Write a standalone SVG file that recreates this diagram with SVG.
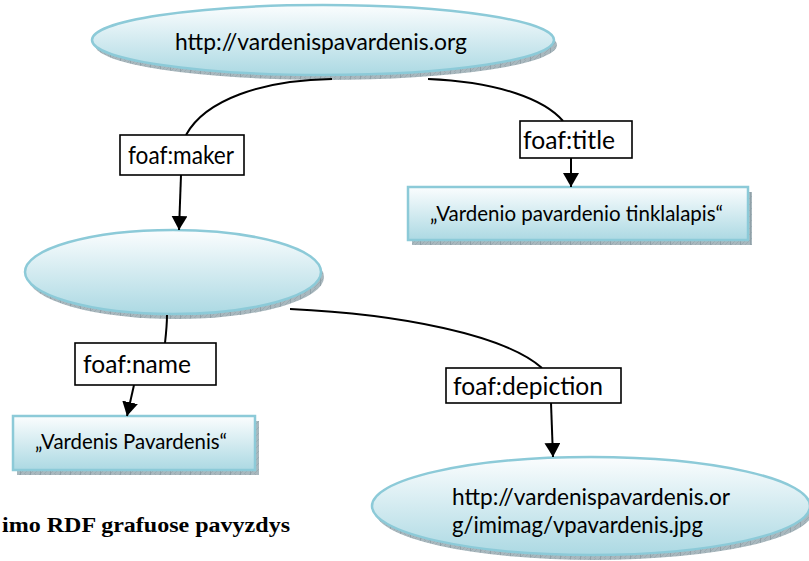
<svg xmlns="http://www.w3.org/2000/svg" width="809" height="561" viewBox="0 0 809 561">
  <defs>
    <linearGradient id="nodeFill" x1="0" y1="0" x2="0" y2="1">
      <stop offset="0" stop-color="#fbfdfe"/>
      <stop offset="1" stop-color="#acd9e3"/>
    </linearGradient>
    <pattern id="hatch" width="10" height="6" patternUnits="userSpaceOnUse">
      <rect width="10" height="6" fill="#a9b8be"/>
      <path d="M0,0 L0,6" stroke="#6d7f88" stroke-width="0.8"/>
      <path d="M0,6 L6,0 M4,6 L10,0" stroke="#8d9ea6" stroke-width="0.5"/>
    </pattern>
    <marker id="arrow" viewBox="0 0 14 16" refX="14" refY="8" markerWidth="14" markerHeight="16" markerUnits="userSpaceOnUse" orient="auto">
      <path d="M0,0 L14,8 L0,16 Z" fill="#000"/>
    </marker>
  </defs>
  <style>
    .ell { fill: url(#nodeFill); stroke: #8ccad8; stroke-width: 2.5; }
    .box { fill: url(#nodeFill); stroke: #8ccad8; stroke-width: 2.5; }
    .shadow { fill: url(#hatch); }
    .lbl { fill: #fff; stroke: #000; stroke-width: 1.6; }
    .txt { font-family: Lato, "Open Sans", sans-serif; fill: #000; }
    .edge { fill: none; stroke: #000; stroke-width: 2; }
    .cap { font-family: "Liberation Serif", serif; font-weight: bold; font-size: 22px; fill: #000; }
  </style>

  <!-- resource: site -->
  <g id="site">
    <ellipse class="shadow" cx="326" cy="45" rx="231" ry="35"/>
    <ellipse class="ell" cx="323" cy="40" rx="231" ry="35"/>
    <text class="txt" x="175" y="50" font-size="24" textLength="292" lengthAdjust="spacingAndGlyphs">http://vardenispavardenis.org</text>
  </g>

  <!-- blank node: person -->
  <g id="person">
    <ellipse class="shadow" cx="176" cy="277" rx="148" ry="42"/>
    <ellipse class="ell" cx="173" cy="272" rx="148" ry="42"/>
  </g>

  <!-- literal: title -->
  <g id="title">
    <rect class="shadow" x="412" y="192" width="340" height="53"/>
    <rect class="box" x="408" y="187" width="340" height="53"/>
    <text class="txt" x="430" y="221" font-size="21" textLength="293" lengthAdjust="spacingAndGlyphs">„Vardenio pavardenio tinklalapis“</text>
  </g>

  <!-- literal: name -->
  <g id="name">
    <rect class="shadow" x="17" y="421" width="242" height="54"/>
    <rect class="box" x="13" y="416" width="242" height="54"/>
    <text class="txt" x="35" y="449" font-size="21" textLength="192" lengthAdjust="spacingAndGlyphs">„Vardenis Pavardenis“</text>
  </g>

  <!-- resource: image -->
  <g id="image">
    <ellipse class="shadow" cx="594" cy="511" rx="219" ry="49"/>
    <ellipse class="ell" cx="591" cy="506" rx="219" ry="49"/>
    <text class="txt" x="452" y="505" font-size="24" textLength="278" lengthAdjust="spacingAndGlyphs">http://vardenispavardenis.or</text>
    <text class="txt" x="452" y="533" font-size="24" textLength="251" lengthAdjust="spacingAndGlyphs">g/imimag/vpavardenis.jpg</text>
  </g>

  <!-- connectors -->
  <g id="edges">
    <path class="edge" d="M332,79 C262,80 205,100 186,135"/>
    <path class="edge" d="M181,175 L179,230" marker-end="url(#arrow)"/>
    <path class="edge" d="M428,79 C500,82 545,100 563,121"/>
    <path class="edge" d="M571,158 L571,187" marker-end="url(#arrow)"/>
    <path class="edge" d="M167,315 C167,325 166,334 165,343"/>
    <path class="edge" d="M134,385 L127,416" marker-end="url(#arrow)"/>
    <path class="edge" d="M290,309 C400,314 505,335 542,368"/>
    <path class="edge" d="M551,403 L553,457" marker-end="url(#arrow)"/>
  </g>

  <!-- predicate labels -->
  <g id="lbl-maker">
    <rect class="lbl" x="120" y="135" width="124" height="40"/>
    <text class="txt" x="128" y="164" font-size="25" textLength="106" lengthAdjust="spacingAndGlyphs">foaf:maker</text>
  </g>
  <g id="lbl-title">
    <rect class="lbl" x="520" y="121" width="112" height="37"/>
    <text class="txt" x="523" y="149" font-size="25" textLength="92" lengthAdjust="spacingAndGlyphs">foaf:title</text>
  </g>
  <g id="lbl-name">
    <rect class="lbl" x="75" y="343" width="141" height="42"/>
    <text class="txt" x="83" y="373" font-size="25" textLength="108" lengthAdjust="spacingAndGlyphs">foaf:name</text>
  </g>
  <g id="lbl-depiction">
    <rect class="lbl" x="446" y="368" width="175" height="35"/>
    <text class="txt" x="453" y="395" font-size="25" textLength="150" lengthAdjust="spacingAndGlyphs">foaf:depiction</text>
  </g>

  <text class="cap" x="2" y="532" textLength="288" lengthAdjust="spacingAndGlyphs">imo RDF grafuose pavyzdys</text>
</svg>
